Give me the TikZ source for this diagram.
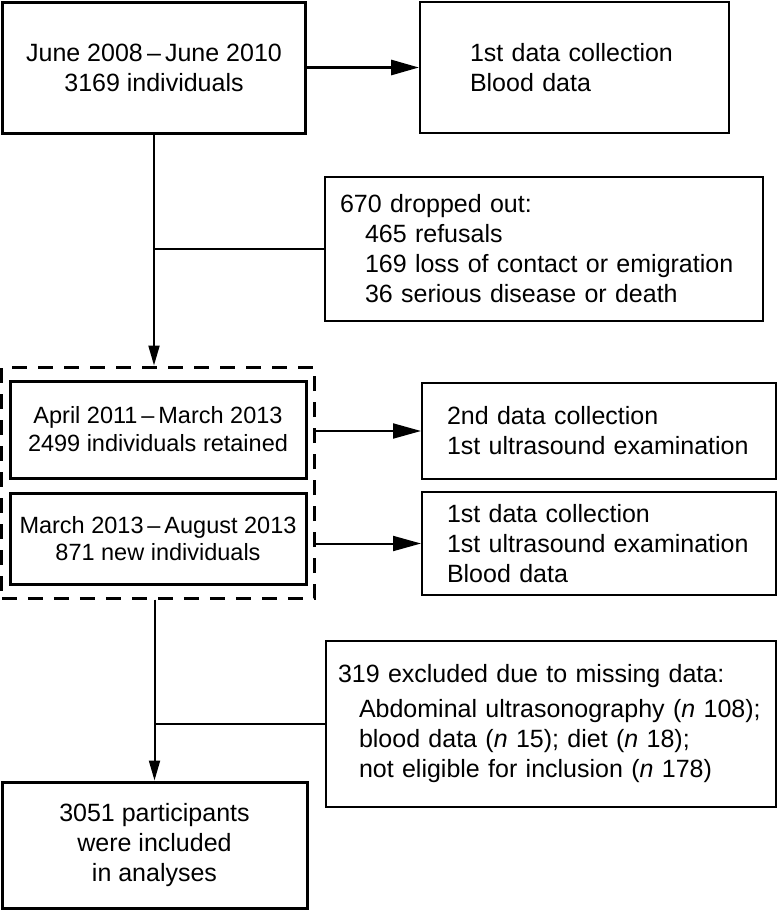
\documentclass[tikz,border=0pt]{standalone}
\usepackage{fontspec}
\setmainfont{Liberation Sans}
\usetikzlibrary{arrows.meta}

\begin{document}
\begin{tikzpicture}[x=1pt,y=-1pt,
        box/.style={draw=black,line width=3pt,inner sep=0pt,align=center,font=\fontsize{25}{30}\selectfont},
        note/.style={draw=black,line width=2pt,inner sep=0pt,align=left,font=\fontsize{25}{30}\selectfont},
        hflow/.style={->,>={Triangle[length=28pt,width=15pt]},line width=2pt},
        vflow/.style={->,>={Triangle[length=20pt,width=11pt]},line width=2pt}]
        \useasboundingbox (0,0) rectangle (777,910);
        \node[box,minimum width=303pt,minimum height=131pt] (A) at (154,67.5) {June 2008\,--\,June 2010\\3169 individuals};
        \node[note,text width=209pt,minimum width=309pt,minimum height=131pt] (B) at (574.5,67.5) {1st data collection\\Blood data};
        \node[note,text width=408pt,minimum width=438pt,minimum height=144pt] (C) at (544,249) {670 dropped out:\\\hspace*{25pt}465 refusals\\\hspace*{25pt}169 loss of contact or emigration\\\hspace*{25pt}36 serious disease or death};
        \node[draw=black,line width=3pt,dash pattern=on 15pt off 11pt,minimum width=313pt,minimum height=231pt] (D) at (158.25,482.5) {};
        \node[box,font=\fontsize{23.5}{28}\selectfont,minimum width=296pt,minimum height=97pt] (E) at (158,429.5) {April 2011\,--\,March 2013\\2499 individuals retained};
        \node[box,font=\fontsize{23.5}{27.5}\selectfont,minimum width=296pt,minimum height=91pt] (F) at (158,538.5) {March 2013\,--\,August 2013\\871 new individuals};
        \node[note,text width=304pt,minimum width=354pt,minimum height=96pt] (G) at (599,431) {2nd data collection\\1st ultrasound examination};
        \node[note,text width=304pt,minimum width=354pt,minimum height=103pt] (H) at (599,543.5) {1st data collection\\1st ultrasound examination\\Blood data};
        \node[note,text width=426pt,minimum width=450pt,minimum height=166pt] (I) at (551,724) {319 excluded due to missing data:\\[5pt]\hspace*{21pt}Abdominal ultrasonography (\textit{n} 108);\\\hspace*{21pt}blood data (\textit{n} 15); diet (\textit{n} 18);\\\hspace*{21pt}not eligible for inclusion (\textit{n} 178)};
        \node[box,minimum width=305pt,minimum height=126pt] (J) at (154.5,845) {3051 participants\\were included\\in analyses};
        \path [hflow,line width=3pt] (A) edge (B);
        \draw [vflow] (A) -- (A |- D.north);
        \draw [line width=2pt] (C) -- (C -| A);
        \draw [hflow] (D.east |- G) -- (G);
        \draw [hflow] (D.east |- H) -- (H);
        \draw [vflow] (D.south -| J) -- (J);
        \draw [line width=2pt] (I) -- (I -| J);
    \end{tikzpicture}
\end{document}
